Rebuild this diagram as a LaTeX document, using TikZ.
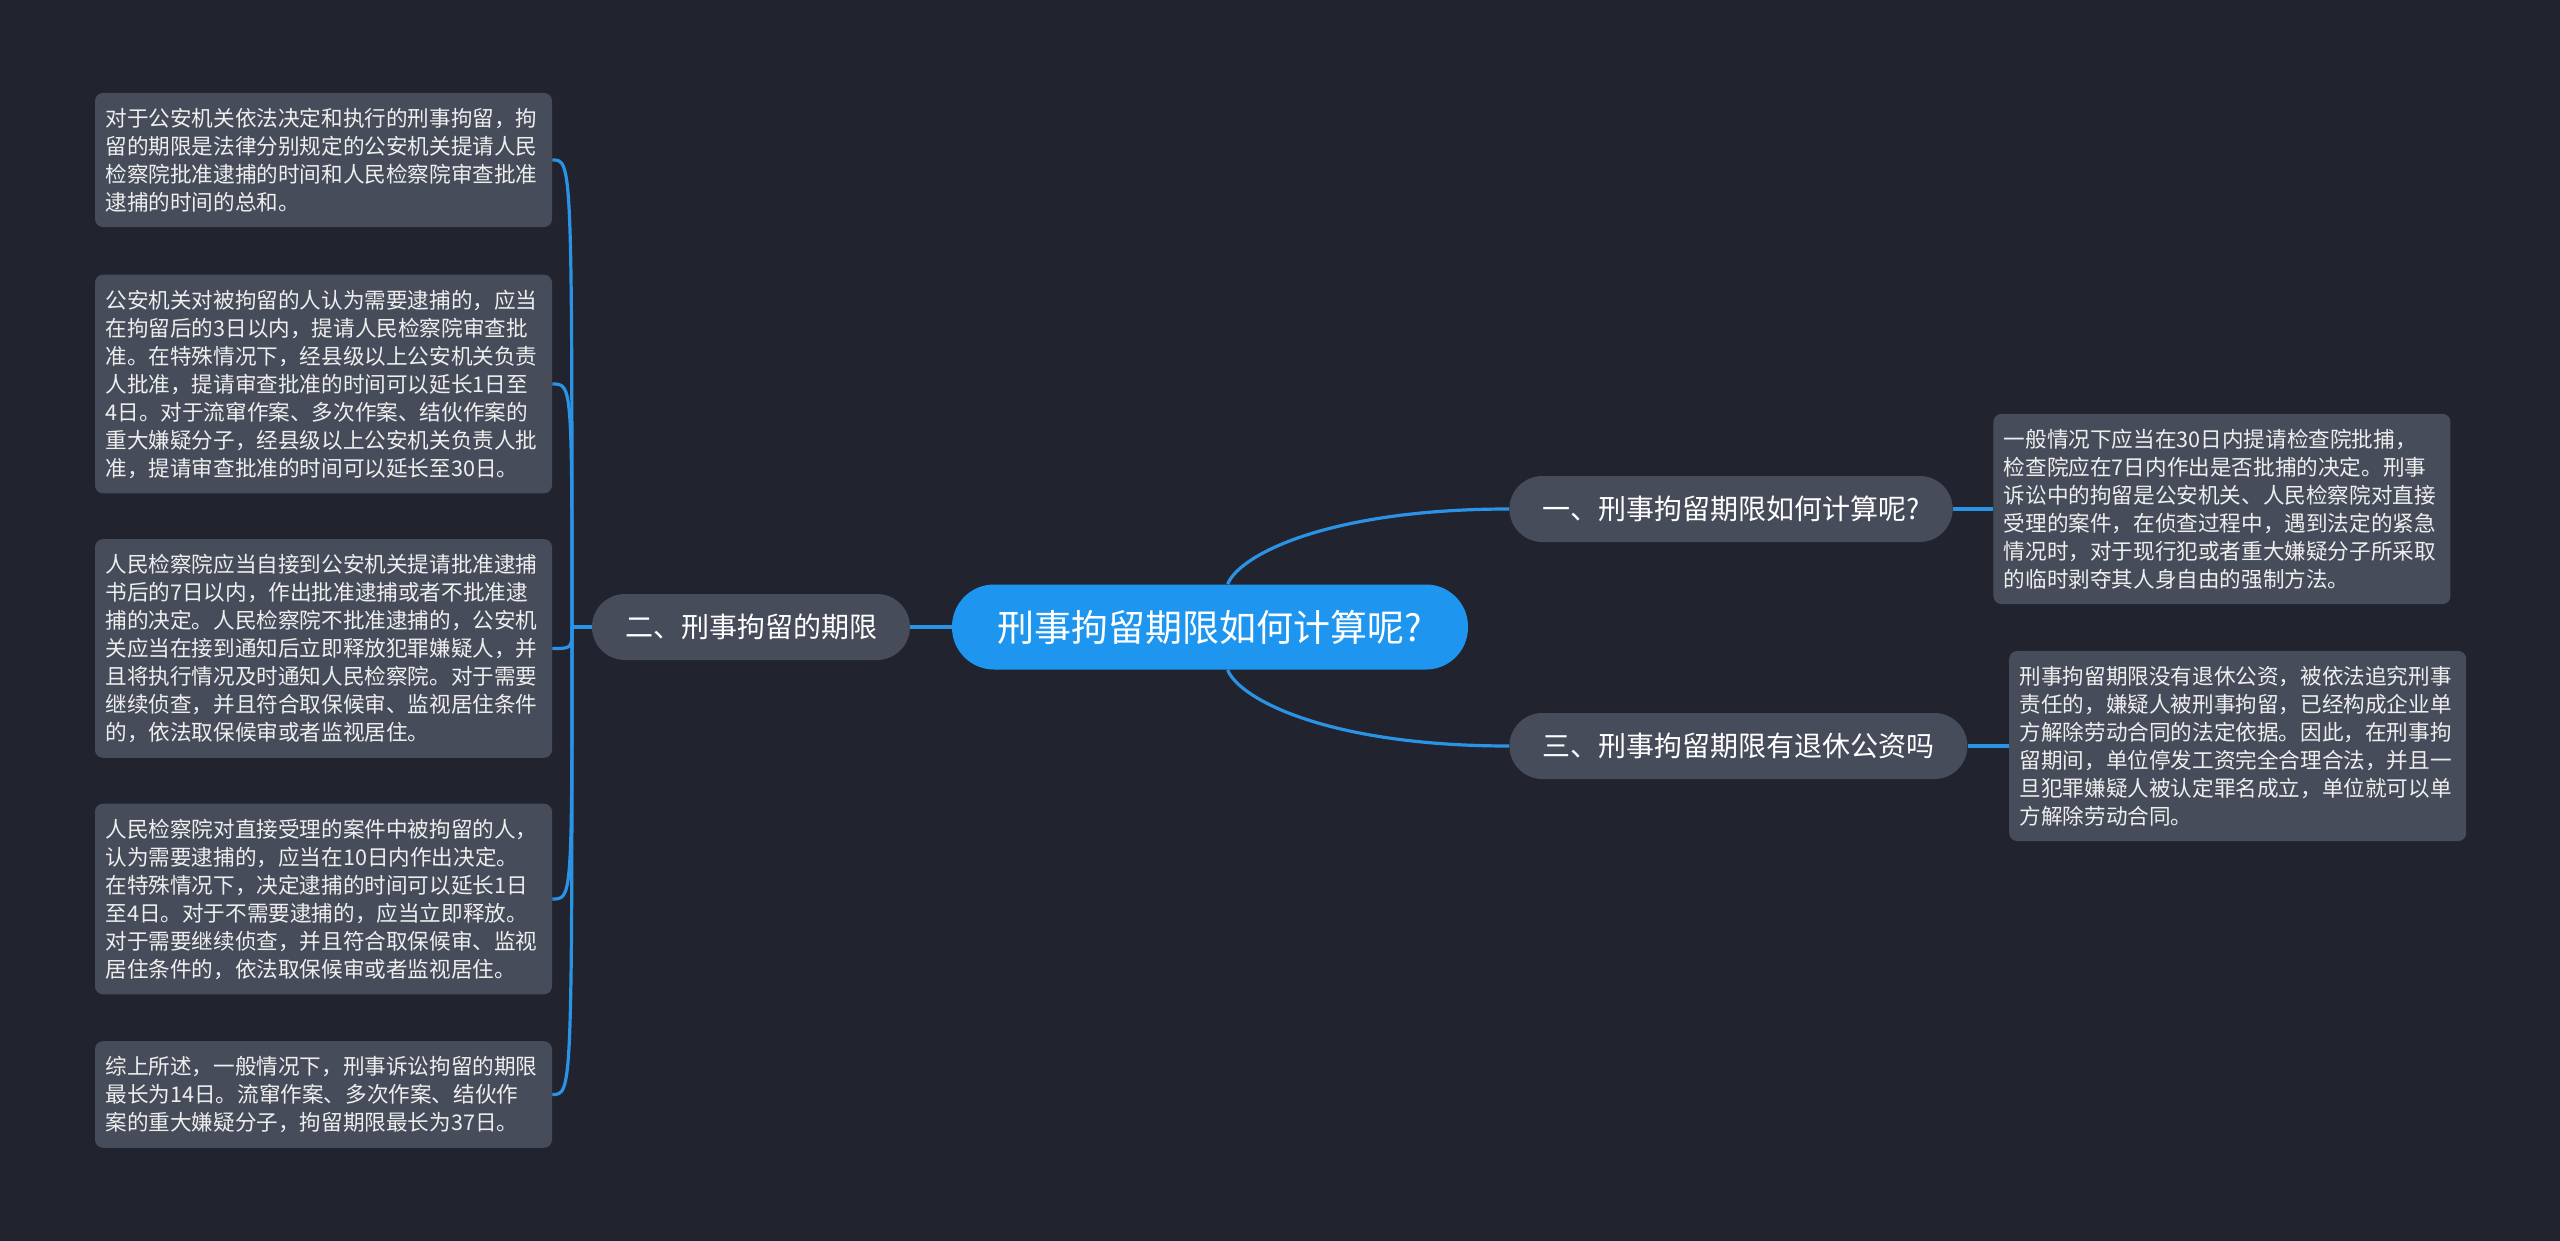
\documentclass[tikz,border=0pt]{standalone}
\usepackage{fontspec}
\setmainfont{Noto Sans CJK SC}
\usetikzlibrary{positioning}
\definecolor{canvas}{HTML}{21242F}
\definecolor{pill}{HTML}{474C5A}
\definecolor{rootblue}{HTML}{1E96F0}
\definecolor{wire}{HTML}{2A93E6}
\definecolor{notetext}{HTML}{EEEEEE}

\begin{document}
\begin{tikzpicture}[
        x=0.5pt, y=-0.5pt,
        hub/.style={rectangle, rounded corners=21pt, fill=rootblue, text=white,
                    minimum width=258pt, minimum height=42.5pt, font=\fontsize{18.5}{22}\selectfont},
        topic/.style={rectangle, rounded corners=16.5pt, fill=pill, text=white,
                      minimum height=33pt, inner xsep=16.5pt, font=\fontsize{14}{17}\selectfont},
        note/.style={rectangle, rounded corners=4pt, fill=pill, text=notetext, align=left,
                     text width=218pt, inner xsep=5.25pt, inner ysep=7.5pt, font=\fontsize{10.8}{14}\selectfont},
        link/.style={draw=wire, line width=1.6pt}
      ]
        \fill[canvas] (0,0) rectangle (2560,1241);
        \node[hub] (root) at (1210,627) {刑事拘留期限如何计算呢?};
        \node[topic] (t2) at (751,627) {二、刑事拘留的期限};
        \node[topic, anchor=west] (t1) at (1509,509) {一、刑事拘留期限如何计算呢?};
        \node[topic, anchor=west] (t3) at (1509,746) {三、刑事拘留期限有退休公资吗};
        \node[note, right=20pt of t1] (n1) {一般情况下应当在30日内提请检查院批捕，\\检查院应在7日内作出是否批捕的决定。刑事\\诉讼中的拘留是公安机关、人民检察院对直接\\受理的案件，在侦查过程中，遇到法定的紧急\\情况时，对于现行犯或者重大嫌疑分子所采取\\的临时剥夺其人身自由的强制方法。};
        \node[note, right=20.5pt of t3] (n2) {刑事拘留期限没有退休公资，被依法追究刑事\\责任的，嫌疑人被刑事拘留，已经构成企业单\\方解除劳动合同的法定依据。因此，在刑事拘\\留期间，单位停发工资完全合理合法，并且一\\旦犯罪嫌疑人被认定罪名成立，单位就可以单\\方解除劳动合同。};
        \node[note] (l1) at (323.5,160) {对于公安机关依法决定和执行的刑事拘留，拘\\留的期限是法律分别规定的公安机关提请人民\\检察院批准逮捕的时间和人民检察院审查批准\\逮捕的时间的总和。};
        \node[note] (l2) at (323.5,384) {公安机关对被拘留的人认为需要逮捕的，应当\\在拘留后的3日以内，提请人民检察院审查批\\准。在特殊情况下，经县级以上公安机关负责\\人批准，提请审查批准的时间可以延长1日至\\4日。对于流窜作案、多次作案、结伙作案的\\重大嫌疑分子，经县级以上公安机关负责人批\\准，提请审查批准的时间可以延长至30日。};
        \node[note] (l3) at (323.5,648.5) {人民检察院应当自接到公安机关提请批准逮捕\\书后的7日以内，作出批准逮捕或者不批准逮\\捕的决定。人民检察院不批准逮捕的，公安机\\关应当在接到通知后立即释放犯罪嫌疑人，并\\且将执行情况及时通知人民检察院。对于需要\\继续侦查，并且符合取保候审、监视居住条件\\的，依法取保候审或者监视居住。};
        \node[note] (l4) at (323.5,899) {人民检察院对直接受理的案件中被拘留的人，\\认为需要逮捕的，应当在10日内作出决定。\\在特殊情况下，决定逮捕的时间可以延长1日\\至4日。对于不需要逮捕的，应当立即释放。\\对于需要继续侦查，并且符合取保候审、监视\\居住条件的，依法取保候审或者监视居住。};
        \node[note] (l5) at (323.5,1094.5) {综上所述，一般情况下，刑事诉讼拘留的期限\\最长为14日。流窜作案、多次作案、结伙作\\案的重大嫌疑分子，拘留期限最长为37日。};
        \coordinate (jl) at (572,627);
        \draw[link] (root) .. controls (1240,554) and (1330,509) .. (t1.west);
        \draw[link] (root) .. controls (1240,700) and (1330,746) .. (t3.west);
        \draw[link] (root) -- (t2);
        \draw[link] (t1) -- (n1);
        \draw[link] (t3) -- (n2);
        \draw[link] (t2) -- (jl);
        \foreach \n in {l1,l2,l3,l4,l5}
          \draw[link] (jl) .. controls (jl |- \n.east) .. (\n.east);
      \end{tikzpicture}
\end{document}
